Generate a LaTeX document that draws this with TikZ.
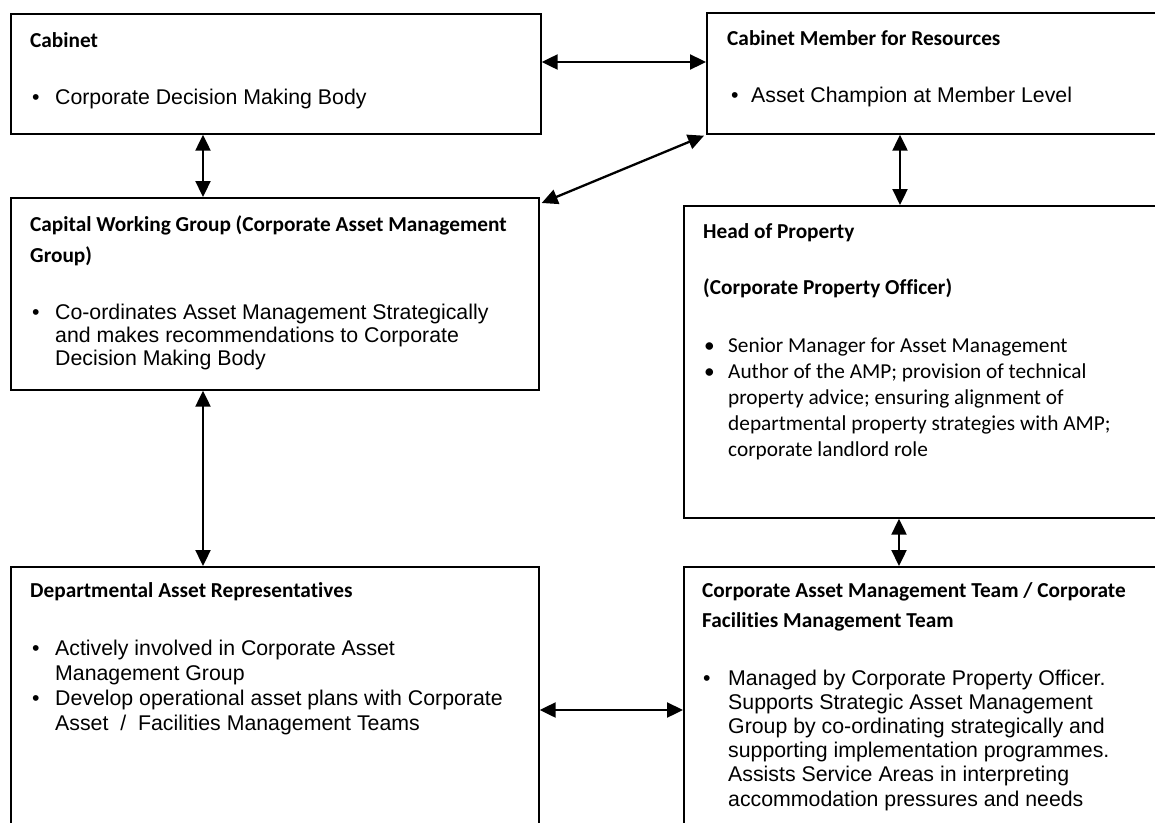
\documentclass[tikz,border=0pt]{standalone}
\usepackage{fontspec}
\setmainfont{Liberation Sans}
\newfontfamily\calfont[Ligatures=NoCommon]{Carlito}
\usetikzlibrary{arrows.meta,calc}
\newcommand{\ttlfont}[1]{\calfont\bfseries\fontsize{21.3}{#1}\selectfont}
\newcommand{\armfont}[1]{\fontsize{21.3}{#1}\selectfont}
\newcommand{\calbody}[1]{\calfont\fontsize{21.3}{#1}\selectfont}
\newcommand{\bul}[1]{\makebox[#1][l]{•}}
\tikzset{
  box/.style={draw, line width=1.7pt, inner sep=0pt, anchor=north west},
  txt/.style={anchor=base west, inner sep=0pt},
  link/.style={{Triangle[length=16pt,width=15pt]}-{Triangle[length=16pt,width=15pt]}, line width=2.3pt}
}
\begin{document}
\begin{tikzpicture}[x=1pt,y=-1pt]
\useasboundingbox (0,0) rectangle (1155,822);
\clip (0,0) rectangle (1155,822);
\fill[white] (0,0) rectangle (1155,822);
% boxes
\node[box, minimum width=530pt, minimum height=120pt] (cab) at (10,13) {};
\node[box, minimum width=470pt, minimum height=121pt] (cmr) at (706,12) {};
\node[box, minimum width=528pt, minimum height=192pt] (cwg) at (10,197) {};
\node[box, minimum width=490pt, minimum height=312pt] (hop) at (683,205) {};
\node[box, minimum width=528pt, minimum height=280pt] (dar) at (10,566) {};
\node[box, minimum width=490pt, minimum height=280pt] (camt) at (683,566) {};
% texts
\node[txt, font=\ttlfont{31}] (cab-h) at (30,47) {Cabinet};
\node[txt, font=\armfont{24.5}] (cab-b) at (32,104) {\bul{23pt}Corporate Decision Making Body};
\node[txt, font=\ttlfont{31}] (cmr-h) at (727,45) {Cabinet Member for Resources};
\node[txt, font=\armfont{24.5}] (cmr-b) at (731,102) {\bul{20pt}Asset Champion at Member Level};
\node[txt, font=\ttlfont{31}] (cwg-h) at (30,231) {\begin{tabular}[t]{@{}l@{}}Capital Working Group (Corporate Asset Management\\Group)\end{tabular}};
\node[txt, font=\armfont{23}] (cwg-b) at (32,319) {\begin{tabular}[t]{@{}l@{}l@{}}\bul{23pt}&Co-ordinates Asset Management Strategically\\&and makes recommendations to Corporate\\&Decision Making Body\end{tabular}};
\node[txt, font=\ttlfont{31}] (hop-h1) at (703,238) {Head of Property};
\node[txt, font=\ttlfont{31}] (hop-h2) at (703,294) {(Corporate Property Officer)};
\node[txt, font=\calbody{26}] (hop-b) at (704,352) {\begin{tabular}[t]{@{}l@{}l@{}}\bul{24pt}&Senior Manager for Asset Management\\\bul{24pt}&Author of the AMP; provision of technical\\&property advice; ensuring alignment of\\&departmental property strategies with AMP;\\&corporate landlord role\end{tabular}};
\node[txt, font=\ttlfont{31}] (dar-h) at (30,597) {Departmental Asset Representatives};
\node[txt, font=\armfont{25}] (dar-b) at (32,655) {\begin{tabular}[t]{@{}l@{}l@{}}\bul{23pt}&Actively involved in Corporate Asset\\&Management Group\\\bul{23pt}&Develop operational asset plans with Corporate\\&Asset\ \ /\ \ Facilities Management Teams\end{tabular}};
\node[txt, font=\ttlfont{30}] (camt-h) at (702,597) {\begin{tabular}[t]{@{}l@{}}Corporate Asset Management Team / Corporate\\Facilities Management Team\end{tabular}};
\node[txt, font=\armfont{24.2}] (camt-b) at (703,685) {\begin{tabular}[t]{@{}l@{}l@{}}\bul{25pt}&Managed by Corporate Property Officer.\\&Supports Strategic Asset Management\\&Group by co-ordinating strategically and\\&supporting implementation programmes.\\&Assists Service Areas in interpreting\\&accommodation pressures and needs\end{tabular}};
% connector helpers
\coordinate (xa) at (203,0);
\coordinate (xb) at (900,0);
\coordinate (xc) at (899,0);
\coordinate (ya) at (0,62);
\coordinate (yb) at (0,710);
% connectors
\draw[link] (cab.east |- ya) -- (cmr.west |- ya);
\draw[link] (cab.south -| xa) -- (cwg.north -| xa);
\draw[link] ($(cmr.south west)+(-2,1)$) -- ($(cwg.north east)+(2,6)$);
\draw[link] (cmr.south -| xb) -- (hop.north -| xb);
\draw[link] (cwg.south -| xa) -- (dar.north -| xa);
\draw[link] (hop.south -| xc) -- (camt.north -| xc);
\draw[link] (dar.east |- yb) -- (camt.west |- yb);
\end{tikzpicture}
\end{document}
